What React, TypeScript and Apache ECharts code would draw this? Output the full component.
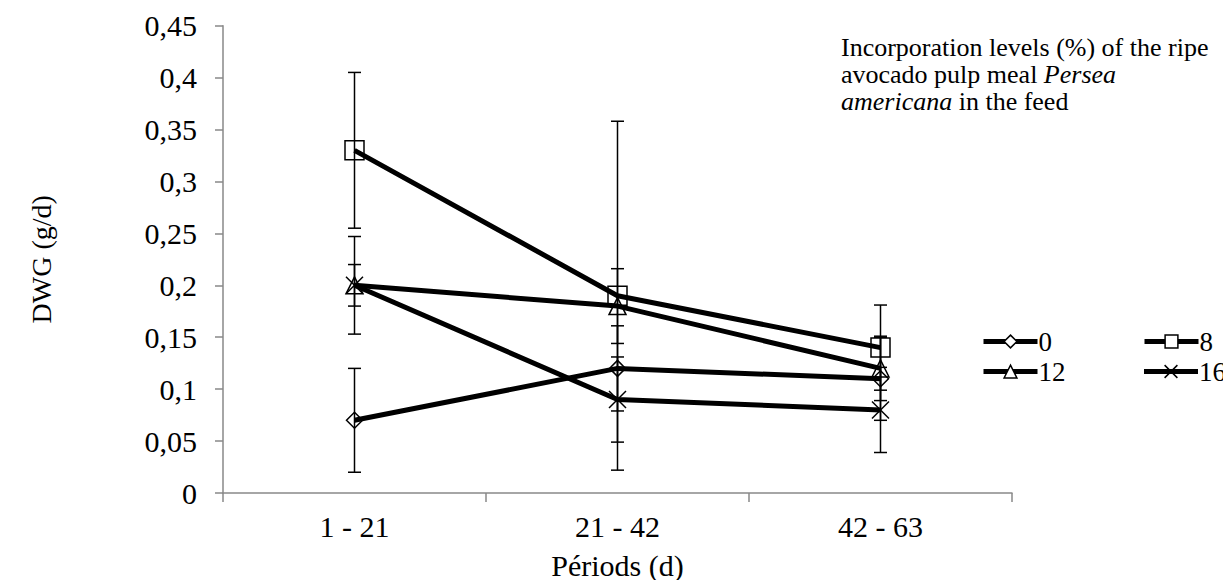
import React, { useEffect, useRef } from "react";
import * as echarts from "echarts";

const categories = ["1 - 21", "21 - 42", "42 - 63"];
const seriesNames = ["0", "8", "12", "16"];
const values0 = [0.07, 0.12, 0.11];
const values8 = [0.33, 0.19, 0.14];
const values12 = [0.2, 0.18, 0.12];
const values16 = [0.2, 0.09, 0.08];
const err0 = [0.05, 0.041, 0.04];
const err8 = [0.075, 0.168, 0.041];
const err12 = [0.047, 0.036, 0.031];
const err16 = [0.02, 0.041, 0.041];
const yMin = 0;
const yMax = 0.45;
const yInterval = 0.05;

const FONT = "'Liberation Serif', 'Times New Roman', serif";

export default function App() {
  const ref = useRef<HTMLDivElement>(null);
  useEffect(() => {
    if (!ref.current) return;
    const chart = echarts.init(ref.current, undefined, { renderer: "svg" });
    const allValues = [values0, values8, values12, values16];
    const allErr = [err0, err8, err12, err16];
    const symbols = ["diamond", "rect", "triangle", "path://M0,0L10,10M10,0L0,10"];
    const symbolSizes = [16, 19, 17, 17];
    const errData: number[][] = [];
    allValues.forEach((vals, s) => {
      vals.forEach((v, i) => {
        errData.push([i, v - allErr[s][i], v + allErr[s][i]]);
      });
    });
    const lineSeries = allValues.map((vals, s) => ({
      name: seriesNames[s],
      type: "line",
      data: vals,
      symbol: symbols[s],
      symbolSize: symbolSizes[s],
      showAllSymbol: true,
      lineStyle: { color: "#000", width: 5 },
      itemStyle: { color: "rgba(255,255,255,0)", borderColor: "#000", borderWidth: 1.5 },
      z: 3,
    }));
    const legendCommon = {
      itemWidth: 54,
      itemHeight: 16,
      lineStyle: { color: "#000", width: 5 },
      itemStyle: { color: "#fff", borderColor: "#000", borderWidth: 1.5 },
      textStyle: { fontFamily: FONT, fontSize: 27, color: "#000", padding: [0, 0, 0, -4] },
      selectedMode: false,
      orient: "horizontal",
    };
    chart.setOption({
      animation: false,
      textStyle: { fontFamily: FONT, color: "#000" },
      title: {
        left: 841,
        top: 34,
        padding: 0,
        text:
          "{n|Incorporation levels (%) of the ripe}\n{n|avocado pulp meal }{i|Persea}\n{i|americana}{n| in the feed}",
        textStyle: {
          fontWeight: "normal",
          rich: {
            n: { fontFamily: FONT, fontSize: 26, fontWeight: "normal", color: "#000", lineHeight: 27 },
            i: { fontFamily: FONT, fontSize: 26, fontWeight: "normal", color: "#000", fontStyle: "italic", lineHeight: 27 },
          },
        },
      },
      legend: [
        { ...legendCommon, left: 976, top: 323, itemGap: 90, data: ["0", "8"] },
        { ...legendCommon, left: 976, top: 353, itemGap: 76, data: ["12", "16"] },
      ],
      grid: { left: 223, right: 219, top: 25.7, bottom: 95, containLabel: false },
      xAxis: {
        type: "category",
        data: categories,
        boundaryGap: true,
        axisLine: { lineStyle: { color: "#898989", width: 1.5 } },
        axisTick: { show: true, length: 9, lineStyle: { color: "#898989", width: 1.5 } },
        axisLabel: { fontFamily: FONT, fontSize: 30, color: "#000", margin: 18 },
        name: "Périods (d)",
        nameLocation: "middle",
        nameGap: 57,
        nameTextStyle: { fontFamily: FONT, fontSize: 30, color: "#000" },
      },
      yAxis: {
        type: "value",
        min: yMin,
        max: yMax,
        interval: yInterval,
        splitLine: { show: false },
        axisLine: { show: true, lineStyle: { color: "#898989", width: 1.5 } },
        axisTick: { show: true, length: 8, lineStyle: { color: "#898989", width: 1.5 } },
        axisLabel: {
          fontFamily: FONT,
          fontSize: 30,
          color: "#000",
          margin: 26,
          formatter: (v: number) => String(Number(v.toFixed(2))).replace(".", ","),
        },
        name: "DWG (g/d)",
        nameLocation: "middle",
        nameGap: 168,
        nameTextStyle: { fontFamily: FONT, fontSize: 28, color: "#000" },
      },
      series: [
        ...lineSeries,
        {
          type: "custom",
          name: "err",
          data: errData,
          z: 4,
          silent: true,
          renderItem: (params: any, api: any) => {
            const x = api.value(0);
            const lo = api.coord([x, api.value(1)]);
            const hi = api.coord([x, api.value(2)]);
            const w = 6.5;
            const style = { stroke: "#000", lineWidth: 1.5 };
            return {
              type: "group",
              children: [
                { type: "line", shape: { x1: lo[0], y1: lo[1], x2: hi[0], y2: hi[1] }, style },
                { type: "line", shape: { x1: lo[0] - w, y1: lo[1], x2: lo[0] + w, y2: lo[1] }, style },
                { type: "line", shape: { x1: hi[0] - w, y1: hi[1], x2: hi[0] + w, y2: hi[1] }, style },
              ],
            };
          },
        },
      ],
    });
    return () => chart.dispose();
  }, []);
  return <div ref={ref} style={{ width: 1231, height: 588, margin: -8 }} />;
}
